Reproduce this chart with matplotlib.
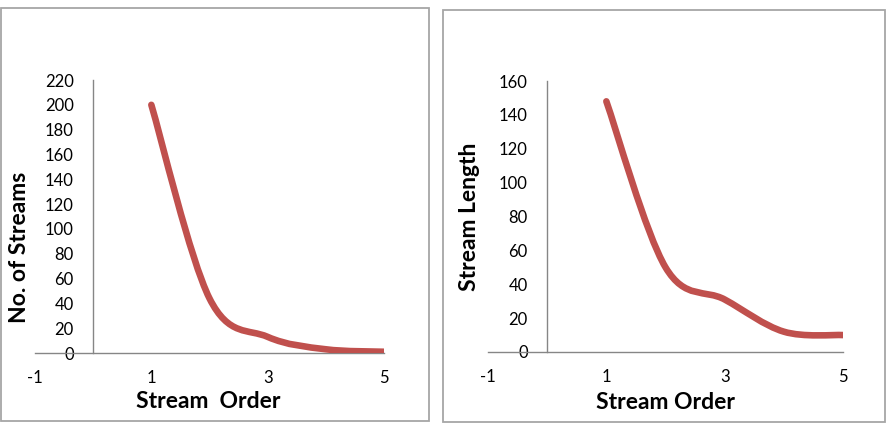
import numpy as np
import matplotlib.pyplot as plt
from matplotlib.path import Path
from matplotlib.patches import PathPatch, Rectangle

plt.rcParams['font.family'] = ['Lato', 'DejaVu Sans']
plt.rcParams['axes.unicode_minus'] = False

# data
stream_order = [1, 2, 3, 4, 5]
no_of_streams = [200, 44, 13, 3, 1]
stream_length = [148, 50, 31, 12, 10]

line_col = '#C0504D'
axis_col = '#868686'
W, H = 890, 424


def smooth_path(x, y):
    # Excel-like smoothed line: cubic Bezier through every point
    x = np.asarray(x, float)
    y = np.asarray(y, float)
    n = len(x)
    verts = [(x[0], y[0])]
    codes = [Path.MOVETO]
    for i in range(n - 1):
        xp, yp = (x[i - 1], y[i - 1]) if i > 0 else (x[i], y[i])
        xn, yn = (x[i + 2], y[i + 2]) if i + 2 < n else (x[i + 1], y[i + 1])
        c1 = (x[i] + (x[i + 1] - xp) / 6, y[i] + (y[i + 1] - yp) / 6)
        c2 = (x[i + 1] - (xn - x[i]) / 6, y[i + 1] - (yn - y[i]) / 6)
        verts += [c1, c2, (x[i + 1], y[i + 1])]
        codes += [Path.CURVE4] * 3
    return Path(verts, codes)


def px(x0, y_top, x1, y_bot):
    # pixel box -> figure fraction [left, bottom, width, height]
    return [x0 / W, 1 - y_bot / H, (x1 - x0) / W, (y_bot - y_top) / H]


fig = plt.figure(figsize=(8.9, 4.24), dpi=100)

# chart area borders
for (a, b, c, d) in [(1, 8, 429, 421), (443, 10, 885, 422)]:
    l, bt, w, h = px(a, b, c, d)
    fig.patches.append(Rectangle((l, bt), w, h, transform=fig.transFigure,
                                 fill=False, edgecolor='#A6A6A6', linewidth=1.3))

ax1 = fig.add_axes(px(35, 80, 384, 353))
ax2 = fig.add_axes(px(488, 81, 843, 352))

setups = [
    (ax1, no_of_streams, 220, 'No. of Streams', 'Stream  Order',
     (-0.043, 0.388), (0.496, -0.179)),
    (ax2, stream_length, 160, 'Stream Length', 'Stream Order',
     (-0.051, 0.498), (0.499, -0.188)),
]

for ax, vals, ymax, ylab, xlab, ypos, xpos in setups:
    ax.add_patch(PathPatch(smooth_path(stream_order, vals), fill=False,
                           edgecolor=line_col, linewidth=4.75,
                           capstyle='round', joinstyle='round', zorder=3))
    ax.set_xlim(-1, 5)
    ax.set_ylim(0, ymax)
    ax.set_xticks([-1, 1, 3, 5])
    ax.set_yticks(np.arange(0, ymax + 1, 20))
    ax.spines['top'].set_visible(False)
    ax.spines['right'].set_visible(False)
    ax.spines['left'].set_position(('data', 0))
    for s in ('left', 'bottom'):
        ax.spines[s].set_color(axis_col)
        ax.spines[s].set_linewidth(1.0)
    ax.tick_params(axis='both', length=0, labelsize=12, labelcolor='black')
    ax.tick_params(axis='y', pad=14)
    ax.tick_params(axis='x', pad=12)
    ax.set_ylabel(ylab, fontsize=16.5, fontweight='bold')
    ax.set_xlabel(xlab, fontsize=16.5, fontweight='bold')
    ax.yaxis.set_label_coords(*ypos)
    ax.xaxis.set_label_coords(*xpos)
    ax.yaxis.label.set_va('center')
    ax.xaxis.label.set_va('center')
    ax.patch.set_visible(False)

fig.savefig('out.png', dpi=100)
